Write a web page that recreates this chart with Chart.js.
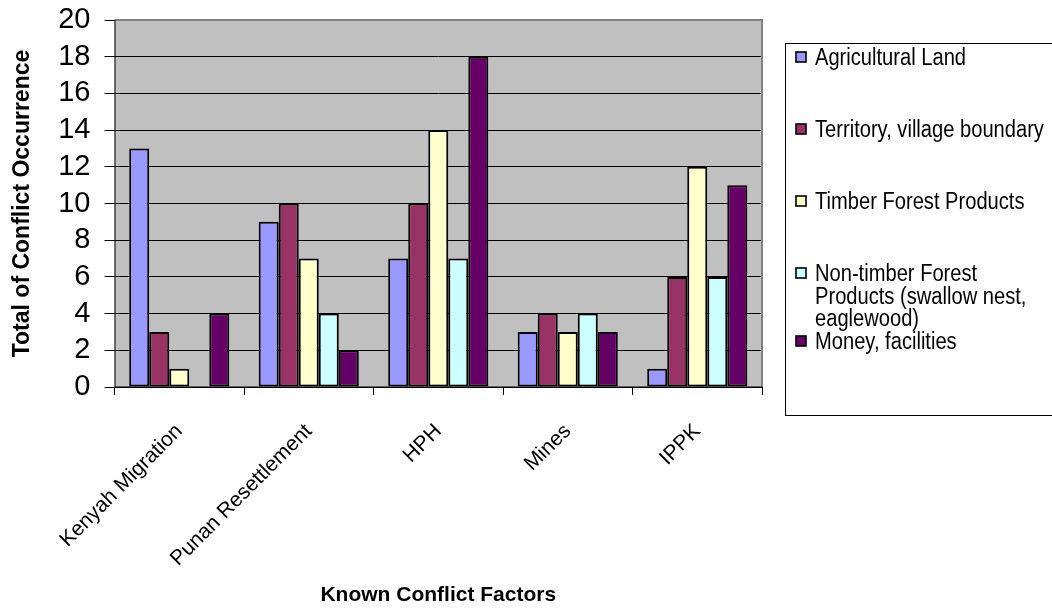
<!DOCTYPE html>
<html>
<head>
<meta charset="utf-8">
<script src="https://cdn.jsdelivr.net/npm/chart.js@4/dist/chart.umd.min.js"></script>
<style>
  html, body { margin: 0; padding: 0; background: #ffffff; }
  #wrap { width: 1052px; height: 615px; position: relative; }
</style>
</head>
<body>
<div id="wrap"><canvas id="chart" width="1052" height="615"></canvas></div>
<script>
// Conflict factors (categories)
const categories = ['Kenyah Migration', 'Punan Resettlement', 'HPH', 'Mines', 'IPPK'];

// Series names, split into the lines shown in the legend
const seriesLines = [
  ['Agricultural Land'],
  ['Territory, village boundary'],
  ['Timber Forest Products'],
  ['Non-timber Forest', 'Products (swallow nest,', 'eaglewood)'],
  ['Money, facilities']
];

// Conflict counts per series, one value per category
const agriculturalLand   = [13, 9, 7, 3, 1];
const territoryBoundary  = [3, 10, 10, 4, 6];
const timberProducts     = [1, 7, 14, 3, 12];
const nonTimberProducts  = [0, 4, 7, 4, 6];
const moneyFacilities    = [4, 2, 18, 3, 11];

// Y axis tick labels
const yTicks = [0, 2, 4, 6, 8, 10, 12, 14, 16, 18, 20];

const seriesValues = [agriculturalLand, territoryBoundary, timberProducts, nonTimberProducts, moneyFacilities];
const seriesColors = ['#9999FF', '#993366', '#FFFFCC', '#CCFFFF', '#660066'];

const FONT = '"Liberation Sans", Arial, sans-serif';

// Grey plot-area background with a grey frame
const plotBackground = {
  id: 'plotBackground',
  beforeDraw(chart) {
    const { ctx, chartArea: a } = chart;
    ctx.save();
    ctx.fillStyle = '#C0C0C0';
    ctx.fillRect(a.left, a.top, a.right - a.left, a.bottom - a.top);
    ctx.restore();
  },
  afterDatasetsDraw(chart) {
    const { ctx, chartArea: a } = chart;
    ctx.save();
    ctx.strokeStyle = '#808080';
    ctx.lineWidth = 2;
    ctx.beginPath();
    ctx.moveTo(a.left, a.top);
    ctx.lineTo(a.right, a.top);
    ctx.lineTo(a.right, a.bottom);
    ctx.stroke();
    ctx.strokeStyle = '#000000';
    ctx.lineWidth = 1;
    ctx.beginPath();
    ctx.moveTo(a.left + 0.5, a.top);
    ctx.lineTo(a.left + 0.5, a.bottom);
    ctx.lineTo(a.right, a.bottom);
    ctx.stroke();
    ctx.restore();
  }
};

// Boxed legend on the right
const boxLegend = {
  id: 'boxLegend',
  afterDraw(chart, args, opts) {
    const { ctx } = chart;
    ctx.save();
    ctx.strokeStyle = '#000000';
    ctx.lineWidth = 1;
    ctx.strokeRect(opts.left + 0.5, opts.top + 0.5, opts.width, opts.height);
    chart.data.datasets.forEach((ds, i) => {
      const y = opts.rows[i];
      const sx = opts.left + 11, sy = Math.round(y - 7);
      ctx.fillStyle = ds.backgroundColor;
      ctx.fillRect(sx, sy, 10, 10);
      ctx.lineWidth = 1.6;
      ctx.strokeStyle = '#000000';
      ctx.strokeRect(sx, sy, 10, 10);
      ctx.fillStyle = '#000000';
      ctx.font = opts.fontSize + 'px ' + FONT;
      ctx.textBaseline = 'middle';
      ctx.textAlign = 'left';
      seriesLines[i].forEach((line, k) => {
        ctx.save();
        ctx.translate(opts.left + 30, y + k * opts.lineHeight);
        ctx.scale(opts.stretch, 1);
        ctx.fillText(line, 0, 0);
        ctx.restore();
      });
    });
    ctx.restore();
  }
};

const chart = new Chart(document.getElementById('chart'), {
  type: 'bar',
  data: {
    labels: categories,
    datasets: seriesValues.map((vals, i) => ({
      label: seriesLines[i].join(' '),
      data: vals,
      backgroundColor: seriesColors[i],
      borderColor: '#000000',
      borderWidth: 2,
      borderSkipped: false,
      categoryPercentage: 0.773,
      barPercentage: 1.0
    }))
  },
  plugins: [plotBackground, boxLegend],
  options: {
    responsive: false,
    animation: false,
    events: [],
    layout: { padding: { top: 20, right: 290, bottom: 0, left: 0 } },
    plugins: {
      legend: { display: false },
      tooltip: { enabled: false },
      boxLegend: {
        left: 785, top: 43, width: 270, height: 372,
        rows: [59, 131, 203, 275, 343],
        lineHeight: 22.5,
        fontSize: 23,
        stretch: 0.875
      }
    },
    scales: {
      x: {
        offset: true,
        grid: {
          offset: true,
          drawOnChartArea: false,
          drawTicks: true,
          tickLength: 8,
          color: '#000000'
        },
        border: { display: false },
        ticks: {
          color: '#000000',
          font: { family: FONT, size: 21 },
          minRotation: 45,
          maxRotation: 45,
          padding: 24
        },
        title: {
          display: true,
          text: 'Known Conflict Factors',
          color: '#000000',
          font: { family: FONT, size: 21, weight: 'bold' },
          padding: { top: 0, bottom: 7 }
        },
        afterFit(scale) { scale.height = 228; }
      },
      y: {
        min: 0,
        max: 20,
        afterBuildTicks(scale) { scale.ticks = yTicks.map(v => ({ value: v })); },
        grid: {
          color: '#000000',
          lineWidth: 1,
          drawTicks: true,
          tickLength: 10
        },
        border: { display: false },
        ticks: {
          color: '#000000',
          font: { family: FONT, size: 29 },
          padding: 14,
          autoSkip: false
        },
        title: {
          display: true,
          text: 'Total of Conflict Occurrence',
          color: '#000000',
          font: { family: FONT, size: 23, weight: 'bold' },
          padding: { top: 9, bottom: 0 }
        },
        afterFit(scale) {
          scale.width = 114.5;
          scale.paddingTop = 0;
          scale.paddingBottom = 0;
        }
      }
    }
  }
});
</script>
</body>
</html>
